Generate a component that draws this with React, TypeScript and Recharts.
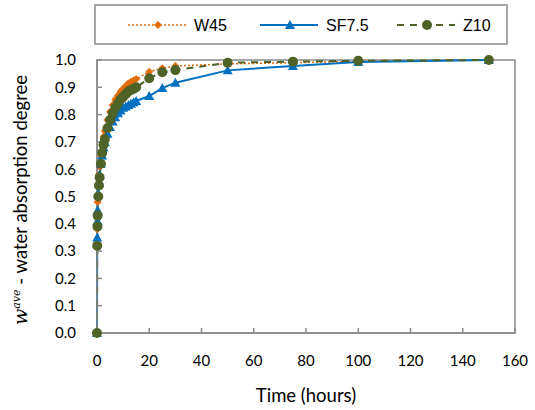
import { LineChart, Line, XAxis, YAxis, ReferenceArea } from "recharts";

// elapsed time (hours)
const hours = [0, 0.08, 0.17, 0.25, 0.5, 0.75, 1, 1.5, 2, 2.5, 3, 4, 5, 6, 7, 8, 9, 10, 11, 12, 13, 14, 15, 20, 25, 30, 50, 75, 100, 150];
// average water absorption degree
const w45 = [0, 0.38, 0.44, 0.48, 0.54, 0.58, 0.61, 0.65, 0.69, 0.72, 0.74, 0.78, 0.81, 0.835, 0.855, 0.87, 0.885, 0.895, 0.905, 0.915, 0.92, 0.925, 0.93, 0.957, 0.97, 0.978, 0.986, 0.99, 0.995, 1.0];
const sf75 = [0, 0.35, 0.41, 0.45, 0.51, 0.55, 0.58, 0.62, 0.65, 0.68, 0.7, 0.73, 0.755, 0.775, 0.79, 0.805, 0.815, 0.825, 0.83, 0.835, 0.84, 0.845, 0.85, 0.868, 0.897, 0.917, 0.962, 0.978, 0.993, 1.0];
const z10 = [0, 0.32, 0.39, 0.43, 0.5, 0.54, 0.57, 0.62, 0.66, 0.69, 0.71, 0.75, 0.78, 0.805, 0.825, 0.84, 0.855, 0.865, 0.875, 0.885, 0.89, 0.895, 0.9, 0.933, 0.955, 0.963, 0.99, 0.994, 0.997, 1.0];

const xTicks = [0, 20, 40, 60, 80, 100, 120, 140, 160];
const yTicks = [0, 0.1, 0.2, 0.3, 0.4, 0.5, 0.6, 0.7, 0.8, 0.9, 1.0];

const ORANGE = "#E46C0A";
const BLUE = "#0070C0";
const GREEN = "#4F6228";
const GRID = "#898989";

const data = hours.map((t, i) => ({ t, w45: w45[i], sf75: sf75[i], z10: z10[i] }));

const Diamond = (p: any) => {
  const { cx, cy, index } = p;
  if (cx == null || cy == null) return <g key={`d${index}`} />;
  return <path key={`d${index}`} d={`M${cx},${cy - 4}L${cx + 4},${cy}L${cx},${cy + 4}L${cx - 4},${cy}Z`} fill={ORANGE} />;
};

const Triangle = (p: any) => {
  const { cx, cy, index } = p;
  if (cx == null || cy == null) return <g key={`t${index}`} />;
  return <path key={`t${index}`} d={`M${cx},${cy - 5}L${cx + 5},${cy + 4}L${cx - 5},${cy + 4}Z`} fill={BLUE} />;
};

const Circle = (p: any) => {
  const { cx, cy, index } = p;
  if (cx == null || cy == null) return <g key={`c${index}`} />;
  return <circle key={`c${index}`} cx={cx} cy={cy} r={5} fill={GREEN} />;
};

const YTitle = () => (
  <text transform="translate(27,200) rotate(-90)" textAnchor="middle" fill="#000" fontFamily="Lato, sans-serif" fontSize={18.5}>
    <tspan fontFamily="'DejaVu Serif', serif" fontStyle="italic" fontSize={19}>w</tspan>
    <tspan fontFamily="'DejaVu Serif', serif" fontStyle="italic" fontSize={11} dy={-7}>ave</tspan>
    <tspan dy={7}> - water absorption degree</tspan>
  </text>
);

const legendItems = [
  { name: "W45", color: ORANGE, dash: "2 2", x: 128, width: 1.5, marker: "diamond" },
  { name: "SF7.5", color: BLUE, dash: undefined, x: 260, width: 2, marker: "triangle" },
  { name: "Z10", color: GREEN, dash: "7 6", x: 397, width: 2, marker: "circle" },
];

const LegendBox = () => (
  <svg width={535} height={50} style={{ position: "absolute", left: 0, top: 0 }}>
    <rect x={95} y={5} width={412} height={39} fill="#fff" stroke="#A6A6A6" strokeWidth={2} />
    {legendItems.map((it) => {
      const mx = it.x + 30;
      const y = 25;
      return (
        <g key={it.name}>
          <line x1={it.x} x2={it.x + 58} y1={y} y2={y} stroke={it.color} strokeWidth={it.width} strokeDasharray={it.dash} />
          {it.marker === "diamond" && <path d={`M${mx},${y - 4}L${mx + 4},${y}L${mx},${y + 4}L${mx - 4},${y}Z`} fill={it.color} />}
          {it.marker === "triangle" && <path d={`M${mx},${y - 5}L${mx + 5},${y + 4}L${mx - 5},${y + 4}Z`} fill={it.color} />}
          {it.marker === "circle" && <circle cx={mx} cy={y} r={5} fill={it.color} />}
          <text x={it.x + 66} y={y + 6} fontFamily="'Liberation Sans', Arial, sans-serif" fontSize={16} fill="#000">
            {it.name}
          </text>
        </g>
      );
    })}
  </svg>
);

export default function App() {
  return (
    <div style={{ position: "absolute", left: 0, top: 0, width: 535, height: 410, background: "#fff" }}>
      <LineChart width={535} height={410} data={data} margin={{ top: 60, right: 20, left: 0, bottom: 0 }}>
        <ReferenceArea x1={0} x2={160} y1={0} y2={1} fill="none" stroke={GRID} strokeWidth={1.5} ifOverflow="visible" />
        <XAxis
          dataKey="t"
          type="number"
          domain={[0, 160]}
          ticks={xTicks}
          height={77}
          stroke={GRID}
          strokeWidth={1.5}
          tickSize={-5}
          tickMargin={27}
          tick={{ fill: "#000", fontSize: 15, fontFamily: "Lato, sans-serif" }}
          label={{ value: "Time (hours)", position: "insideBottom", offset: 8, fill: "#000", fontSize: 18.5, fontFamily: "Lato, sans-serif" }}
        />
        <YAxis
          type="number"
          domain={[0, 1]}
          ticks={yTicks}
          width={97}
          stroke={GRID}
          strokeWidth={1.5}
          tickSize={-5}
          tickMargin={26}
          tickFormatter={(v: number) => v.toFixed(1)}
          tick={{ fill: "#000", fontSize: 15, fontFamily: "Lato, sans-serif" }}
          label={{ content: () => <YTitle /> }}
        />
        <Line dataKey="w45" stroke={ORANGE} strokeWidth={1.5} strokeDasharray="2 2" dot={Diamond} activeDot={false} isAnimationActive={false} />
        <Line dataKey="sf75" stroke={BLUE} strokeWidth={2} dot={Triangle} activeDot={false} isAnimationActive={false} />
        <Line dataKey="z10" stroke={GREEN} strokeWidth={2} strokeDasharray="7 6" dot={Circle} activeDot={false} isAnimationActive={false} />
      </LineChart>
      <LegendBox />
    </div>
  );
}
